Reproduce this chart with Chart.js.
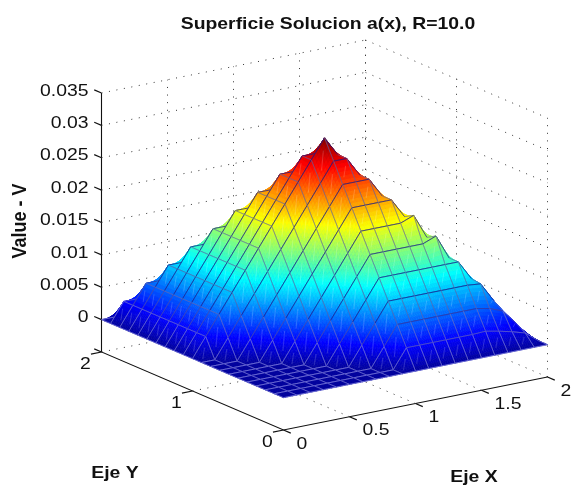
<!DOCTYPE html>
<html>
<head>
<meta charset="utf-8">
<script src="https://cdn.jsdelivr.net/npm/chart.js@4"></script>
<style>
  html, body { margin: 0; padding: 0; background: #fff; }
</style>
</head>
<body>
<canvas id="myChart" width="572" height="489"></canvas>
<script>
// malla de la superficie
const ejeX = [0, 0.1, 0.2, 0.3, 0.4, 0.5, 0.6, 0.7, 0.8, 0.9, 1, 1.1, 1.2, 1.3, 1.4, 1.5, 1.6, 1.7, 1.8, 1.9, 2];
const ejeY = [0, 0.1, 0.2, 0.3, 0.4, 0.5, 0.6, 0.7, 0.8, 0.9, 1, 1.1, 1.2, 1.3, 1.4, 1.5, 1.6, 1.7, 1.8, 1.9, 2];

// una fila de valores por cada y
const y00 = [0, 0, 0, 0, 0, 0, 0, 0, 0, 0, 0, 0, 0, 0, 0, 0, 0, 0, 0, 0, 0];
const y01 = [0, 0, 0, 0, 0, 0, 0, 0, 0, 0, .003, .003, .003, .003, .003, .003, .0031, .0027, .0022, .0016, 0];
const y02 = [0, 0, 0, 0, 0, 0, 0, 0, 0, .003, .006, .006, .006, .006, .006, .006, .006, .0056, .0048, .0025, 0];
const y03 = [0, 0, 0, 0, 0, 0, 0, 0, .003, .006, .009, .009, .009, .009, .009, .009, .009, .0088, .0058, .0027, 0];
const y04 = [0, 0, 0, 0, 0, 0, 0, .003, .006, .009, .012, .012, .012, .012, .012, .012, .012, .009, .006, .003, 0];
const y05 = [0, 0, 0, 0, 0, 0, .003, .006, .009, .012, .015, .015, .015, .015, .015, .0158, .012, .009, .006, .003, 0];
const y06 = [0, 0, 0, 0, 0, .003, .006, .009, .012, .015, .018, .018, .018, .018, .0188, .015, .012, .009, .006, .003, 0];
const y07 = [0, 0, 0, 0, .003, .006, .009, .012, .015, .018, .021, .021, .021, .021, .018, .015, .012, .009, .006, .003, 0];
const y08 = [0, 0, 0, .003, .006, .009, .012, .015, .018, .021, .024, .024, .024, .021, .018, .015, .012, .009, .006, .003, 0];
const y09 = [0, 0, .003, .006, .009, .012, .015, .018, .021, .024, .027, .027, .024, .021, .018, .015, .012, .009, .006, .003, 0];
const y10 = [0, .003, .006, .009, .012, .015, .018, .021, .024, .027, .03, .027, .024, .021, .018, .015, .012, .009, .006, .003, 0];
const y11 = [0, .003, .006, .009, .012, .015, .018, .021, .024, .027, .027, .027, .024, .021, .018, .015, .012, .009, .006, .003, 0];
const y12 = [0, .003, .006, .009, .012, .015, .018, .021, .024, .024, .024, .024, .024, .021, .018, .015, .012, .009, .006, .003, 0];
const y13 = [0, .003, .006, .009, .012, .015, .018, .021, .021, .021, .021, .021, .021, .021, .018, .015, .012, .009, .006, .003, 0];
const y14 = [0, .003, .006, .009, .012, .015, .018, .018, .018, .018, .018, .018, .018, .018, .018, .015, .012, .009, .006, .003, 0];
const y15 = [0, .003, .006, .009, .012, .015, .015, .015, .015, .015, .015, .015, .015, .015, .015, .015, .012, .009, .006, .003, 0];
const y16 = [0, .003, .006, .009, .012, .012, .012, .012, .012, .012, .012, .012, .012, .012, .012, .012, .012, .009, .006, .003, 0];
const y17 = [0, .003, .006, .009, .009, .009, .009, .009, .009, .009, .009, .009, .009, .009, .009, .009, .009, .009, .006, .003, 0];
const y18 = [0, .003, .006, .006, .006, .006, .006, .006, .006, .006, .006, .006, .006, .006, .006, .006, .006, .006, .006, .003, 0];
const y19 = [0, .003, .003, .003, .003, .003, .003, .003, .003, .003, .003, .003, .003, .003, .003, .003, .003, .003, .003, .003, 0];
const y20 = [0, 0, 0, 0, 0, 0, 0, 0, 0, 0, 0, 0, 0, 0, 0, 0, 0, 0, 0, 0, 0];
const valoresZ = [y00, y01, y02, y03, y04, y05, y06, y07, y08, y09, y10, y11, y12, y13, y14, y15, y16, y17, y18, y19, y20];

const ticksX = [0, 0.5, 1, 1.5, 2];
const etiquetasX = ["0", "0.5", "1", "1.5", "2"];
const ticksY = [0, 1, 2];
const etiquetasY = ["0", "1", "2"];
const ticksZ = [0, 0.005, 0.01, 0.015, 0.02, 0.025, 0.03, 0.035];
const etiquetasZ = ["0", "0.005", "0.01", "0.015", "0.02", "0.025", "0.03", "0.035"];
const zMin = -0.005;
const zMax = 0.035;
const colorMin = -0.0009;
const colorMax = 0.03;

// vista 3D: de (x,y,z) al plano de la figura
function proyectar(x, y, z) {
  return {
    x: 283.5 + 132 * x - 91 * y,
    y: 430 - 26.5 * x - 39 * y - 6475 * (z - zMin),
  };
}

function jet(v) {
  const t = Math.max(0, Math.min(1, (v - colorMin) / (colorMax - colorMin)));
  const r = Math.max(0, Math.min(1, Math.min(4 * t - 1.5, -4 * t + 4.5)));
  const g = Math.max(0, Math.min(1, Math.min(4 * t - 0.5, -4 * t + 3.5)));
  const b = Math.max(0, Math.min(1, Math.min(4 * t + 0.5, -4 * t + 2.5)));
  return "rgb(" + Math.round(r * 255) + "," + Math.round(g * 255) + "," + Math.round(b * 255) + ")";
}

function linea(puntos, tipo) {
  const base = { type: "scatter", showLine: true, pointRadius: 0, clip: false, data: puntos };
  if (tipo === "grid") {
    return { ...base, borderColor: "#333", borderWidth: 1, borderDash: [1, 6.6] };
  }
  return { ...base, borderColor: "#111", borderWidth: 1.1 };
}

const datasets = [];
// rejilla punteada de paredes y piso
ticksZ.forEach((z) => {
  datasets.push(linea([proyectar(0, 2, z), proyectar(2, 2, z)], "grid"));
  datasets.push(linea([proyectar(2, 2, z), proyectar(2, 0, z)], "grid"));
});
ticksX.slice(1).forEach((x) => {
  datasets.push(linea([proyectar(x, 2, zMin), proyectar(x, 2, zMax)], "grid"));
  datasets.push(linea([proyectar(x, 0, zMin), proyectar(x, 2, zMin)], "grid"));
});
ticksY.forEach((y) => {
  datasets.push(linea([proyectar(2, y, zMin), proyectar(2, y, zMax)], "grid"));
  if (y > 0) datasets.push(linea([proyectar(0, y, zMin), proyectar(2, y, zMin)], "grid"));
});
// ejes
datasets.push(linea([proyectar(0, 2, zMax), proyectar(0, 2, zMin), proyectar(0, 0, zMin), proyectar(2, 0, zMin)], "eje"));
ticksZ.concat([zMin]).forEach((z) => {
  datasets.push(linea([proyectar(0, 2, z), proyectar(0, 2.08, z)], "eje"));
});
ticksY.forEach((y) => {
  datasets.push(linea([proyectar(0, y, zMin), proyectar(-0.08, y, zMin)], "eje"));
});
ticksX.forEach((x) => {
  datasets.push(linea([proyectar(x, 0, zMin), proyectar(x, -0.08, zMin)], "eje"));
});
// vertices de la superficie, los pinta el plugin
const vertices = [];
valoresZ.forEach((fila, j) => {
  fila.forEach((z, i) => vertices.push(proyectar(ejeX[i], ejeY[j], z)));
});
datasets.push({ type: "scatter", pointRadius: 0, showLine: false, clip: false, data: vertices, label: "a(x)" });
const indiceSuperficie = datasets.length - 1;

function mezcla(a, b, t) {
  const c = a.map((v, k) => Math.round(v + (b[k] - v) * t));
  return "rgb(" + c[0] + "," + c[1] + "," + c[2] + ")";
}

const superficie = {
  id: "superficie",
  afterDatasetsDraw(chart) {
    const ctx = chart.ctx;
    const pts = chart.getDatasetMeta(indiceSuperficie).data;
    const nx = ejeX.length;
    const pasos = 6;
    ctx.save();
    ctx.lineJoin = "round";
    // del fondo hacia el frente
    for (let j = ejeY.length - 2; j >= 0; j--) {
      for (let i = nx - 2; i >= 0; i--) {
        const p00 = pts[j * nx + i], p10 = pts[j * nx + i + 1];
        const p01 = pts[(j + 1) * nx + i], p11 = pts[(j + 1) * nx + i + 1];
        const z00 = valoresZ[j][i], z10 = valoresZ[j][i + 1];
        const z01 = valoresZ[j + 1][i], z11 = valoresZ[j + 1][i + 1];
        const bil = (a, b, c, d, u, v) => a * (1 - u) * (1 - v) + b * u * (1 - v) + c * (1 - u) * v + d * u * v;
        const pos = (u, v) => ({
          x: bil(p00.x, p10.x, p01.x, p11.x, u, v),
          y: bil(p00.y, p10.y, p01.y, p11.y, u, v),
        });
        ctx.lineWidth = 0.7;
        for (let b = pasos - 1; b >= 0; b--) {
          for (let a = pasos - 1; a >= 0; a--) {
            const u0 = a / pasos, u1 = (a + 1) / pasos, v0 = b / pasos, v1 = (b + 1) / pasos;
            const col = jet(bil(z00, z10, z01, z11, (u0 + u1) / 2, (v0 + v1) / 2));
            const q = [pos(u0, v0), pos(u1, v0), pos(u1, v1), pos(u0, v1)];
            ctx.beginPath();
            ctx.moveTo(q[0].x, q[0].y);
            q.slice(1).forEach((p) => ctx.lineTo(p.x, p.y));
            ctx.closePath();
            ctx.fillStyle = col;
            ctx.strokeStyle = col;
            ctx.fill();
            ctx.stroke();
          }
        }
        // costura clara en el centro de las celdas inclinadas
        if (z11 !== z00) {
          const d0 = pos(0.28, 0.28), d1 = pos(0.72, 0.72);
          ctx.beginPath();
          ctx.moveTo(d0.x, d0.y);
          ctx.lineTo(d1.x, d1.y);
          ctx.strokeStyle = "rgba(255,255,255,0.22)";
          ctx.lineWidth = 0.8;
          ctx.stroke();
        }
        // aristas de la celda
        const arista = (a, b, za, zb, bajo, alto, ancho, alfa) => {
          ctx.beginPath();
          ctx.moveTo(a.x, a.y);
          ctx.lineTo(b.x, b.y);
          ctx.strokeStyle = mezcla(bajo, alto, Math.min(1, (za + zb) / 2 / 0.008));
          ctx.globalAlpha = alfa;
          ctx.lineWidth = ancho;
          ctx.stroke();
          ctx.globalAlpha = 1;
        };
        const bajoY = [135, 135, 225], altoY = [25, 25, 135];
        const bajoX = [140, 140, 225], altoX = [95, 95, 160];
        arista(p01, p11, z01, z11, bajoY, altoY, 1, 0.75);
        arista(p10, p11, z10, z11, bajoX, altoX, 0.9, 0.7);
        arista(p00, p01, z00, z01, bajoX, altoX, 0.9, 0.7);
        arista(p00, p10, z00, z10, bajoY, altoY, 1, 0.75);
      }
    }
    ctx.restore();

    // textos: la figura original esta algo estirada a lo ancho
    const estira = 1.14;
    const texto = (t, px, py, align) => {
      ctx.save();
      ctx.translate(px, py);
      ctx.scale(estira, 1);
      ctx.textAlign = align;
      ctx.fillText(t, 0, 0);
      ctx.restore();
    };
    const sx = chart.scales.x, sy = chart.scales.y;
    const enEje = (t, p, dx, dy, align) => texto(t, sx.getPixelForValue(p.x) + dx, sy.getPixelForValue(p.y) + dy, align);
    ctx.save();
    ctx.fillStyle = "#111";
    ctx.textBaseline = "middle";
    ctx.font = "17px 'Liberation Sans'";
    ticksZ.forEach((z, k) => enEje(etiquetasZ[k], proyectar(0, 2, z), -13, -2, "right"));
    ticksY.forEach((y, k) => enEje(etiquetasY[k], proyectar(0, y, zMin), -16, 12, "center"));
    ticksX.forEach((x, k) => enEje(etiquetasX[k], proyectar(x, 0, zMin), 13, 14, "left"));
    ctx.font = "bold 17px 'Liberation Sans'";
    texto("Superficie Solucion a(x), R=10.0", 328, 24, "center");
    texto("Eje Y", 115, 473, "center");
    texto("Eje X", 474, 477, "center");
    ctx.font = "bold 18px 'Liberation Sans'";
    ctx.translate(20, 221);
    ctx.scale(estira, 1);
    ctx.rotate(-Math.PI / 2);
    ctx.textAlign = "center";
    ctx.fillText("Value - V", 0, 0);
    ctx.restore();
  },
};

new Chart(document.getElementById("myChart"), {
  data: { datasets: datasets },
  plugins: [superficie],
  options: {
    responsive: false,
    animation: false,
    plugins: {
      legend: { display: false },
      tooltip: { enabled: false },
    },
    scales: {
      x: { type: "linear", display: false, min: 0, max: 572 },
      y: { type: "linear", display: false, reverse: true, min: 0, max: 489 },
    },
  },
});
</script>
</body>
</html>
